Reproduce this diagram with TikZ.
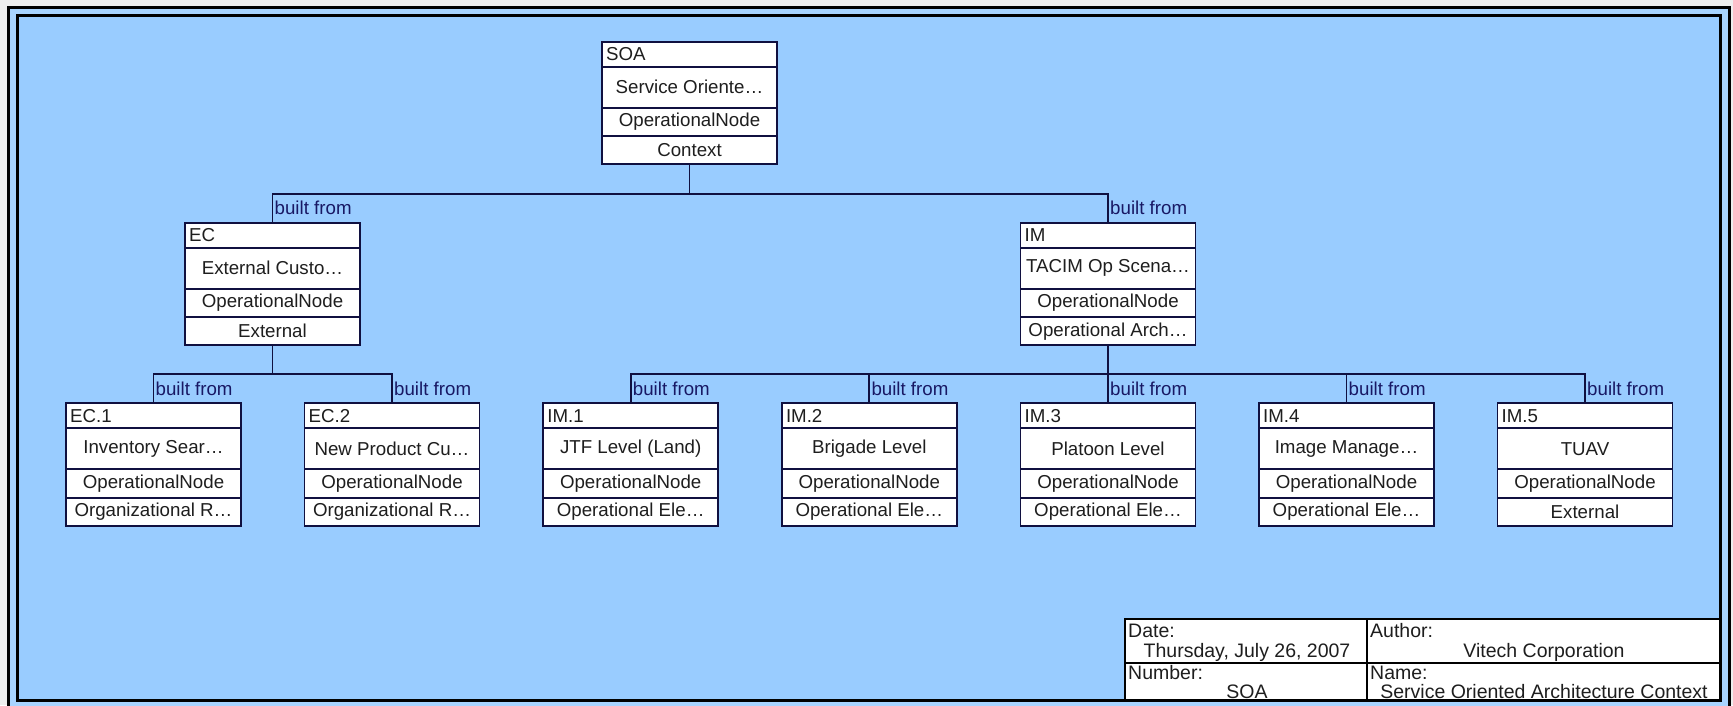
\documentclass[tikz,border=0pt]{standalone}
\usepackage{fontspec}
\setmainfont{Liberation Sans}
\usetikzlibrary{calc}
\definecolor{bgout}{RGB}{238,238,238}
\definecolor{canvas}{RGB}{153,204,255}
\definecolor{strip}{RGB}{168,212,255}
\definecolor{navy}{RGB}{16,16,64}
\definecolor{lblc}{RGB}{24,24,100}
\definecolor{txtc}{RGB}{30,30,30}
\newcommand\opnodebox[7]{%
  \node[box] (#1) at (#2,#3+61.25) {};
  \draw[sep] ($(#1.north west)+(0,25)$) -- ($(#1.north east)+(0,25)$);
  \draw[sep] ($(#1.north west)+(0,66)$) -- ($(#1.north east)+(0,66)$);
  \draw[sep] ($(#1.north west)+(0,94.5)$) -- ($(#1.north east)+(0,94.5)$);
  \node[txt,anchor=west] (#1-id) at ($(#1.north west)+(4,12.5)$) {#4};
  \node[txt] (#1-t) at ($(#1.north)+(0,45.5)$) {#5};
  \node[txt] (#1-k) at ($(#1.north)+(0,80.25)$) {#6};
  \node[txt] (#1-c) at ($(#1.north)+(0,108.5)$) {#7};
}
\begin{document}
\begin{tikzpicture}[x=1pt,y=-1pt,
  box/.style={draw=navy,line width=1.8pt,fill=white,minimum width=175pt,minimum height=122.5pt,inner sep=0pt,outer sep=0pt},
  sep/.style={draw=navy,line width=1.8pt},
  txt/.style={font=\fontsize{18.7}{20}\selectfont,text=txtc,inner sep=0pt},
  conn/.style={draw=navy,line width=1.8pt},
  lbl/.style={font=\fontsize{18.7}{20}\selectfont,text=lblc,inner sep=0pt,anchor=west},
  frameline/.style={draw=black,line width=3pt},
  tb/.style={draw=black,line width=2.5pt},
  tbtxt/.style={font=\fontsize{19.5}{21}\selectfont,text=txtc,inner sep=0pt}]
\useasboundingbox (0,0) rectangle (1733,705);
\clip (0,0) rectangle (1733,705);
\fill[bgout] (0,0) rectangle (1733,705);
\path[frameline,fill=strip] (8.5,7.5) rectangle (1729,720);
\path[frameline,fill=canvas] (17,15.5) rectangle (1720.5,700.5);

% boxes
\opnodebox{SOA}{689.5}{41.7}{SOA}{Service Oriente…}{OperationalNode}{Context}
\opnodebox{EC}{272.5}{222.7}{EC}{External Custo…}{OperationalNode}{External}
\opnodebox{IM}{1108}{222.7}{IM}{TACIM Op Scena…}{OperationalNode}{Operational Arch…}
\opnodebox{EC1}{153.5}{403.3}{EC.1}{Inventory Sear…}{OperationalNode}{Organizational R…}
\opnodebox{EC2}{392}{403.3}{EC.2}{New Product Cu…}{OperationalNode}{Organizational R…}
\opnodebox{IM1}{630.7}{403.3}{IM.1}{JTF Level (Land)}{OperationalNode}{Operational Ele…}
\opnodebox{IM2}{869.3}{403.3}{IM.2}{Brigade Level}{OperationalNode}{Operational Ele…}
\opnodebox{IM3}{1108}{403.3}{IM.3}{Platoon Level}{OperationalNode}{Operational Ele…}
\opnodebox{IM4}{1346.5}{403.3}{IM.4}{Image Manage…}{OperationalNode}{Operational Ele…}
\opnodebox{IM5}{1585}{403.3}{IM.5}{TUAV}{OperationalNode}{External}

% connectors
\coordinate (j0) at (689.5,194);
\coordinate (jEC) at (272.5,374);
\coordinate (jIM) at (1108,374);
\draw[conn] (SOA.south) -- (j0) -| (EC.north);
\draw[conn] (j0) -| (IM.north);
\draw[conn] (EC.south) -- (jEC) -| (EC1.north);
\draw[conn] (jEC) -| (EC2.north);
\draw[conn] (IM.south) -- (jIM) -| (IM1.north);
\draw[conn] (jIM) -| (IM2.north);
\draw[conn] (jIM) -- (IM3.north);
\draw[conn] (jIM) -| (IM4.north);
\draw[conn] (jIM) -| (IM5.north);

% labels
\foreach \n in {EC,IM,EC1,EC2,IM1,IM2,IM3,IM4,IM5}{
  \node[lbl] (bf\n) at ($(\n.north)+(2,-14.5)$) {built from};
}

% title block
\path[tb,fill=white] (1125,619) rectangle (1720.5,700.5);
\draw[tb] (1125,663) -- (1720.5,663);
\draw[tb] (1367,619) -- (1367,700.5);
\node[tbtxt,anchor=base west] (tdate) at (1128,637) {Date:};
\node[tbtxt,anchor=base] (tdatev) at (1247,657.5) {Thursday, July 26, 2007};
\node[tbtxt,anchor=base west] (tnum) at (1128,679) {Number:};
\node[tbtxt,anchor=base] (tnumv) at (1247,698) {SOA};
\node[tbtxt,anchor=base west] (tauth) at (1370,637) {Author:};
\node[tbtxt,anchor=base] (tauthv) at (1544,657.5) {Vitech Corporation};
\node[tbtxt,anchor=base west] (tname) at (1370,679) {Name:};
\node[tbtxt,anchor=base] (tnamev) at (1544,698) {Service Oriented Architecture Context};
\end{tikzpicture}
\end{document}
